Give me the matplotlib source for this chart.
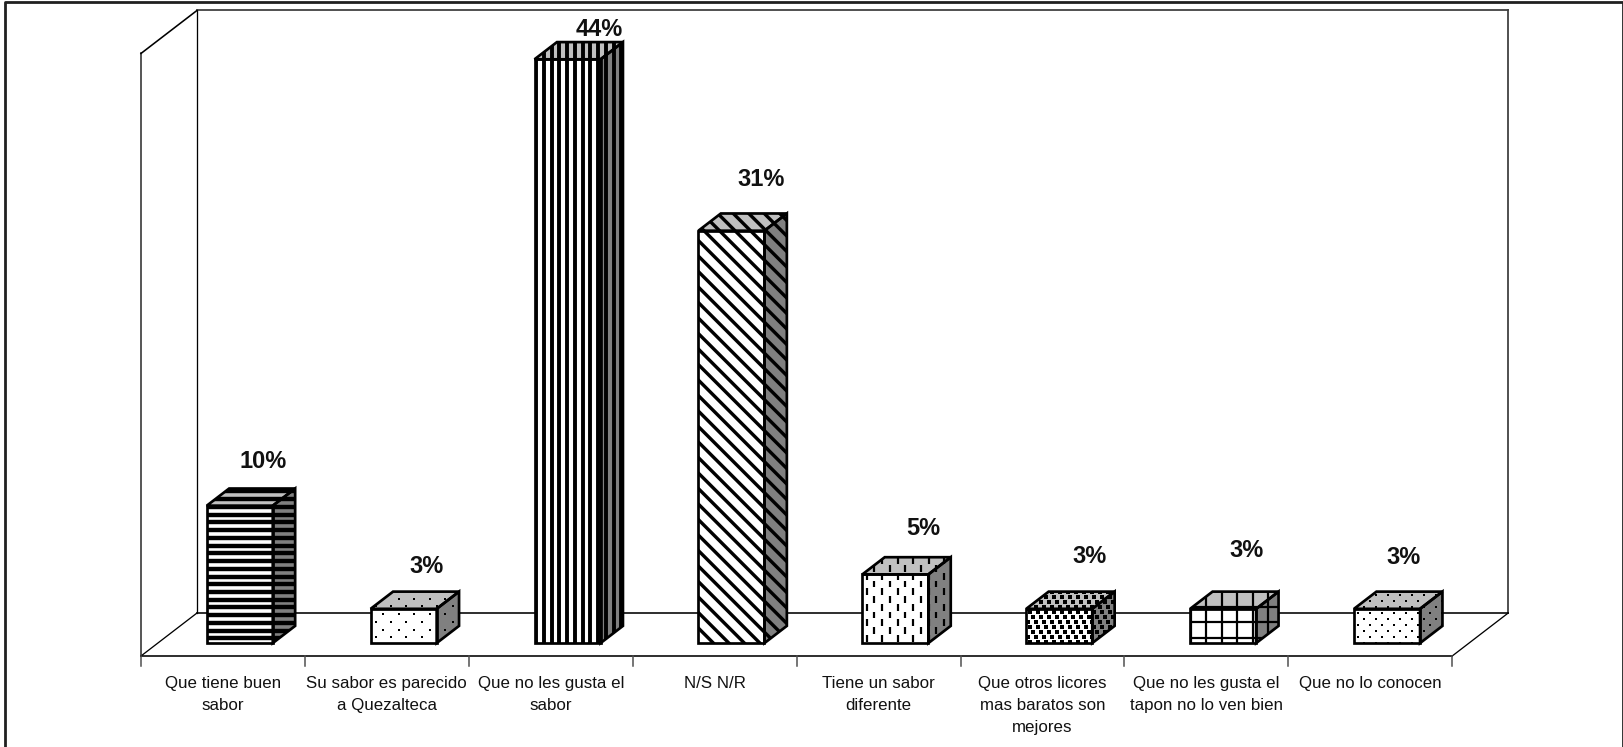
import numpy as np
import matplotlib
matplotlib.use("Agg")
import matplotlib.pyplot as plt
from matplotlib.collections import LineCollection
from matplotlib.patches import Polygon
from matplotlib.transforms import Affine2D

plt.rcParams['font.family'] = ['Liberation Sans', 'DejaVu Sans']

# Answers, share of respondents in percent
categories = [
    "Que tiene buen\nsabor",
    "Su sabor es parecido\na Quezalteca",
    "Que no les gusta el\nsabor",
    "N/S N/R",
    "Tiene un sabor\ndiferente",
    "Que otros licores\nmas baratos son\nmejores",
    "Que no les gusta el\ntapon no lo ven bien",
    "Que no lo conocen",
]
values = [10.26, 2.56, 43.6, 30.8, 5.13, 2.56, 2.56, 2.56]
patterns = ["hlines", "sparse", "vlines", "diag", "dashes", "confetti", "grid", "dots"]

# Where each value label sits relative to the top of its category, in pixels
label_dx = [40, 40, 49, 46, 45, 47, 40, 33]
label_dy = [57, 55.5, 43, 64, 58.5, 65.5, 71.5, 64.5]

W, H = 1624, 747
X0, Y0 = 141.0, 656.0       # front left corner of the floor
X_STEP, Y_STEP = 163.9, 13.39   # pixels per category, pixels per percent
DEPTH_X, DEPTH_Y = 56.0 / X_STEP, 43.0 / Y_STEP   # offset of the back wall
Y_MAX = 45.0
BAR_W = 66.0 / X_STEP
BAR_D0, BAR_D1 = 0.30, 0.70  # bar extent along the depth

fig = plt.figure(figsize=(W / 100, H / 100), dpi=100, facecolor="white")
ax = fig.add_axes([0, 0, 1, 1])
ax.set_xlim(-X0 / X_STEP, (W - X0) / X_STEP)
ax.set_ylim(-(H - Y0) / Y_STEP, Y0 / Y_STEP)
ax.autoscale(False)
ax.axis("off")

# hatch tiles are laid out in image pixels, y going down
tile = Affine2D().scale(1, -1).translate(0, H)


def proj(x, y, d):
    return x + d * DEPTH_X, y + d * DEPTH_Y


def to_px(pts):
    return ax.transData.transform(pts) * [1, -1] + [0, H]


def add_segs(segs, lw, clip, color="black"):
    lc = LineCollection(segs, colors=color, linewidths=lw * 0.72, transform=tile, zorder=3, capstyle="butt")
    ax.add_collection(lc, autolim=False)
    lc.set_clip_path(clip)


def add_dots(xs, ys, size, clip):
    sc = ax.scatter(xs, ys, s=(size * 0.72) ** 2, marker="s", c="black", linewidths=0, transform=tile, zorder=3)
    sc.set_clip_path(clip)


def lattice(box, sx, sy, shift, x0=0.0, y0=0.0, cycle=2):
    # regular dot positions, each row moved sideways by shift against the last
    xs, ys = [], []
    x1, y1, x2, y2 = box
    rows = np.arange(np.floor((y1 - y0) / sy) - 1, np.ceil((y2 - y0) / sy) + 1)
    cols = np.arange(np.floor((x1 - x0) / sx) - 2, np.ceil((x2 - x0) / sx) + 2)
    for r in rows:
        off = shift * (int(r) % cycle)
        for c in cols:
            xs.append(x0 + c * sx + off)
            ys.append(y0 + r * sy)
    return np.array(xs), np.array(ys)


def fill_pattern(kind, clip, box):
    x1, y1, x2, y2 = box
    if kind == "hlines":
        ys = np.arange(y1 - (y1 - 3.76) % 7.74, y2 + 8, 7.74)
        add_segs([[(x1, y), (x2, y)] for y in ys], 4.4, clip)
    elif kind == "vlines":
        xs = np.arange(x1 - (x1 - 1.45) % 7.75, x2 + 8, 7.75)
        add_segs([[(x, y1), (x, y2)] for x in xs], 3.9, clip)
    elif kind == "diag":
        h = y2 - y1
        start = x1 - h - 30
        start -= (start - y1 - 8.3) % 15.5
        xs = np.arange(start, x2 + 30, 15.5)
        add_segs([[(x, y1), (x + h, y2)] for x in xs], 3.4, clip)
    elif kind == "grid":
        xs = np.arange(x1 - (x1 - 12.5) % 15.5, x2 + 16, 15.5)
        ys = np.arange(y1 - (y1 - 622.0) % 15.5, y2 + 16, 15.5)
        segs = [[(x, y1), (x, y2)] for x in xs] + [[(x1, y), (x2, y)] for y in ys]
        add_segs(segs, 2.2, clip)
    elif kind == "dashes":
        # columns of dashes, every other column moved half a period
        ys, xs = lattice((y1, x1, y2, x2), 15.5, 7.75, 7.75, 591.7, 866.7)
        add_segs([[(x, y - 3.4), (x, y + 3.4)] for x, y in zip(xs, ys)], 2.2, clip)
    elif kind == "sparse":
        xs, ys = lattice(box, 15.4, 7.75, 7.7, 383.3, 614.0)
        add_dots(xs, ys, 2.2, clip)
    elif kind == "dots":
        xs, ys = lattice(box, 12.0, 6.0, 6.0, 2.0, 1.0)
        add_dots(xs, ys, 2.0, clip)
    elif kind == "confetti":
        xs, ys = lattice(box, 8.0, 5.0, 2.67, 1.0, 2.0, cycle=3)
        add_dots(xs, ys, 3.4, clip)


def draw_face(pts, color, kind):
    face = Polygon(pts, closed=True, facecolor=color, edgecolor="none", zorder=2)
    ax.add_patch(face)
    px = to_px(pts)
    box = (px[:, 0].min() - 1, px[:, 1].min() - 1, px[:, 0].max() + 1, px[:, 1].max() + 1)
    fill_pattern(kind, face, box)
    edge = Polygon(pts, closed=True, fill=False, edgecolor="black", linewidth=2.7 * 0.72, zorder=4, joinstyle="miter")
    ax.add_patch(edge)


def draw_bar(i, value, kind):
    xc = i + 0.5
    xa, xb = xc - BAR_W / 2, xc + BAR_W / 2
    front = [proj(xa, 0, BAR_D0), proj(xb, 0, BAR_D0), proj(xb, value, BAR_D0), proj(xa, value, BAR_D0)]
    top = [proj(xa, value, BAR_D0), proj(xb, value, BAR_D0), proj(xb, value, BAR_D1), proj(xa, value, BAR_D1)]
    side = [proj(xb, 0, BAR_D0), proj(xb, 0, BAR_D1), proj(xb, value, BAR_D1), proj(xb, value, BAR_D0)]
    draw_face(front, "white", kind)
    draw_face(top, "#c0c0c0", kind)
    draw_face(side, "#808080", kind)


def line3d(a, b, color, lw=1.3):
    xa, ya = proj(*a)
    xb, yb = proj(*b)
    ax.plot([xa, xb], [ya, yb], color=color, lw=lw * 0.72, zorder=1, solid_capstyle="projecting")


# Walls and floor
n = len(categories)
wall = "#404040"
line3d((0, 0, 1), (0, Y_MAX, 1), "black")
line3d((0, Y_MAX, 1), (n, Y_MAX, 1), wall, 1.8)
line3d((n, 0, 1), (n, Y_MAX, 1), wall, 1.8)
line3d((0, 0, 1), (n, 0, 1), "black", 1.6)
line3d((0, 0, 0), (0, Y_MAX, 0), "#303030", 1.6)
line3d((0, Y_MAX, 0), (0, Y_MAX, 1), "black", 1.6)
line3d((0, 0, 0), (0, 0, 1), "black")
line3d((n, 0, 0), (n, 0, 1), "black")
line3d((0, 0, 0), (n, 0, 0), "black", 1.6)

# Category ticks and labels
tick_len = 10 / Y_STEP
for i in range(n + 1):
    ax.plot([i, i], [0, -tick_len], color="#505050", lw=1.1, zorder=1)
for i, name in enumerate(categories):
    ax.text(i + 0.5, -20 / Y_STEP, name, ha="center", va="top", fontsize=12.2, color="#111111", linespacing=1.6)

# Bars, each with its value on top
for i, (v, kind) in enumerate(zip(values, patterns)):
    draw_bar(i, v, kind)
    ax.text(i + 0.5 + label_dx[i] / X_STEP, v + label_dy[i] / Y_STEP, f"{v:.0f}%", ha="center", va="center",
            fontsize=17, fontweight="bold", color="#111111", zorder=5)

# Frame around the chart, open at the bottom
frame = dict(transform=None, color="#202020", lw=2.0, zorder=6, solid_capstyle="butt")
ax.plot([5, 5, W - 1, W - 1], [0, H - 1.5, H - 1.5, 0], **frame)

fig.savefig("out.png", dpi=100)
